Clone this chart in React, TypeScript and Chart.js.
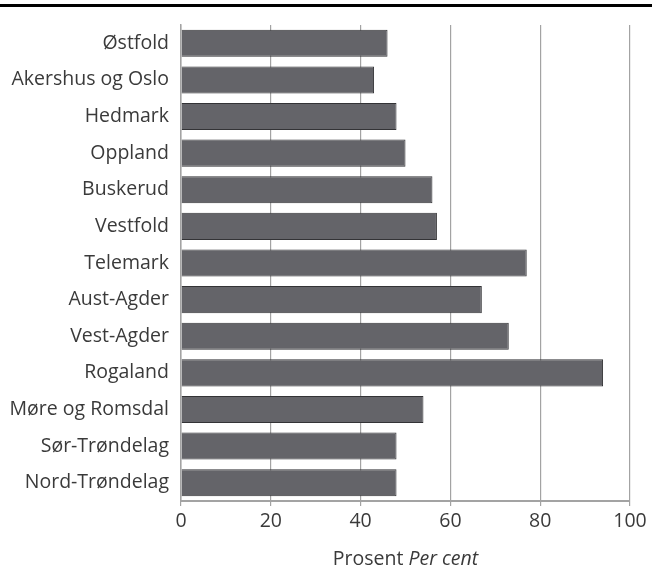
import React, { useEffect, useRef } from "react";
import { Chart, registerables } from "chart.js";

Chart.register(...registerables);

const categories = [
  "Østfold",
  "Akershus og Oslo",
  "Hedmark",
  "Oppland",
  "Buskerud",
  "Vestfold",
  "Telemark",
  "Aust-Agder",
  "Vest-Agder",
  "Rogaland",
  "Møre og Romsdal",
  "Sør-Trøndelag",
  "Nord-Trøndelag",
];
const values = [46, 43, 48, 50, 56, 57, 77, 67, 73, 94, 54, 48, 48];
const xTicks = [0, 20, 40, 60, 80, 100];
const axisTitle = "Prosent";
const axisTitleItalic = "Per cent";

const FONT = "'Open Sans', 'DejaVu Sans', sans-serif";
const TEXT = "#3a3a3a";
const FS = 19.5;

export default function App() {
  const ref = useRef<HTMLCanvasElement | null>(null);

  useEffect(() => {
    document.body.style.margin = "0";
    const canvas = ref.current;
    if (!canvas) return;
    const chart = new Chart(canvas, {
      type: "bar",
      data: {
        labels: categories,
        datasets: [
          {
            data: values,
            backgroundColor: "#646469",
            borderColor: "#333336",
            borderWidth: 1,
            barPercentage: 0.74,
            categoryPercentage: 1,
          },
        ],
      },
      options: {
        indexAxis: "y",
        animation: false,
        responsive: false,
        maintainAspectRatio: false,
        layout: { padding: { top: 25, right: 22, left: 0, bottom: 0 } },
        plugins: {
          legend: { display: false },
          tooltip: { enabled: false },
        },
        scales: {
          x: {
            min: 0,
            max: 100,
            afterBuildTicks: (scale: any) => {
              scale.ticks = xTicks.map((v) => ({ value: v }));
            },
            afterFit: (scale: any) => {
              scale.height = 71;
            },
            grid: {
              color: "#a3a3a3",
              lineWidth: 1.2,
              drawTicks: true,
              tickLength: 5,
            },
            border: { display: true, color: "#a3a3a3", width: 2 },
            ticks: {
              color: TEXT,
              font: { family: FONT, size: FS },
              padding: 4,
            },
          },
          y: {
            afterFit: (scale: any) => {
              scale.width = 181;
            },
            grid: { display: false, drawTicks: false },
            border: { display: true, color: "#a3a3a3", width: 1.5 },
            ticks: {
              color: TEXT,
              font: { family: FONT, size: FS },
              padding: 12,
            },
          },
        },
      },
    });
    return () => chart.destroy();
  }, []);

  return (
    <div style={{ position: "fixed", left: 0, top: 0, width: 652, height: 572, background: "#fff" }}>
      <div style={{ position: "absolute", left: 0, top: 4, width: 652, height: 3, background: "#000" }} />
      <canvas ref={ref} width={652} height={572} style={{ position: "absolute", left: 0, top: 0 }} />
      <div
        style={{
          position: "absolute",
          left: 181,
          width: 449,
          top: 545,
          textAlign: "center",
          fontFamily: FONT,
          fontSize: FS,
          color: TEXT,
          lineHeight: "26px",
        }}
      >
        {axisTitle} <i>{axisTitleItalic}</i>
      </div>
    </div>
  );
}
